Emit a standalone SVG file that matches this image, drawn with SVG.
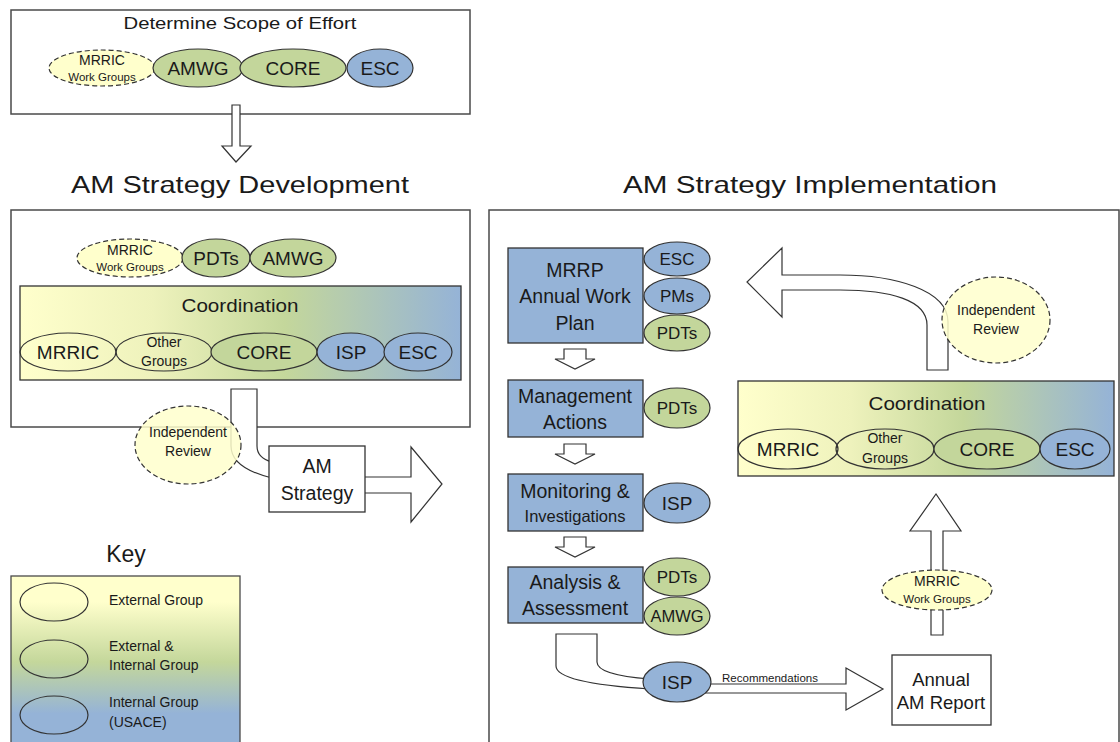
<svg xmlns="http://www.w3.org/2000/svg" xmlns:xlink="http://www.w3.org/1999/xlink" width="1120" height="742" viewBox="0 0 1120 742">
  <defs>
    <linearGradient id="coordGrad" x1="0" y1="0" x2="1" y2="0">
      <stop offset="0" stop-color="#FFFFCC"/>
      <stop offset="0.3" stop-color="#EEF2BC"/>
      <stop offset="0.6" stop-color="#C4D79B"/>
      <stop offset="1" stop-color="#95B3D7"/>
    </linearGradient>
    <linearGradient id="keyGrad" x1="0" y1="0" x2="0" y2="1">
      <stop offset="0" stop-color="#FFFFCC"/>
      <stop offset="0.15" stop-color="#FFFFCC"/>
      <stop offset="0.5" stop-color="#C4D79B"/>
      <stop offset="0.8" stop-color="#95B3D7"/>
      <stop offset="1" stop-color="#95B3D7"/>
    </linearGradient>
    <path id="smallDown" d="M-11,0 H11 V10 H20 L0,20 L-20,10 H-11 Z"/>
  </defs>
  <style>
    text { font-family: "Liberation Sans", Arial, sans-serif; fill: #1a1a1a; text-anchor: middle; }
    .frame { fill: #ffffff; stroke: #4a4a4a; stroke-width: 1.5; }
    .box { fill: #ffffff; stroke: #333333; stroke-width: 1.3; }
    .task { fill: #95B3D7; stroke: #333333; stroke-width: 1.3; }
    .coord { fill: url(#coordGrad); stroke: #333333; stroke-width: 1.3; }
    .ext { fill: #FFFFCC; stroke: #333333; stroke-width: 1.2; stroke-dasharray: 5 3; }
    .review { fill: #FFFFCC; fill-opacity: 0.85; stroke: #333333; stroke-width: 1.2; stroke-dasharray: 5 3; }
    .open { fill: none; stroke: #333333; stroke-width: 1.2; }
    .green { fill: #C3D69B; stroke: #333333; stroke-width: 1.2; }
    .blue { fill: #95B3D7; stroke: #333333; stroke-width: 1.2; }
    .arrow { fill: #ffffff; stroke: #333333; stroke-width: 1.2; stroke-linejoin: miter; }
    .title { font-size: 24px; }
    .lbl { font-size: 19px; }
    .task-t { font-size: 19.5px; }
    .mid { font-size: 17px; }
    .sm { font-size: 14px; }
    .xs { font-size: 11.5px; }
    .key { font-size: 14px; text-anchor: start; }
  </style>

  <!-- Scope of effort -->
  <g id="scope">
    <rect class="frame" x="11" y="10" width="459" height="104"/>
    <text x="240" y="29" font-size="16.5" textLength="233" lengthAdjust="spacingAndGlyphs">Determine Scope of Effort</text>
    <g id="scope-mrric">
      <ellipse class="ext" cx="102" cy="68" rx="53" ry="18"/>
      <text class="sm" x="102" y="65">MRRIC</text>
      <text class="xs" x="102" y="81">Work Groups</text>
    </g>
    <g id="scope-amwg">
      <ellipse class="green" cx="198" cy="68" rx="45" ry="19"/>
      <text class="lbl" x="198" y="75">AMWG</text>
    </g>
    <g id="scope-core">
      <ellipse class="green" cx="293" cy="68" rx="53" ry="19"/>
      <text class="lbl" x="293" y="75">CORE</text>
    </g>
    <g id="scope-esc">
      <ellipse class="blue" cx="380" cy="68" rx="33" ry="19"/>
      <text class="lbl" x="380" y="75">ESC</text>
    </g>
  </g>

  <!-- Section titles -->
  <text class="title" x="240" y="193" textLength="338" lengthAdjust="spacingAndGlyphs">AM Strategy Development</text>
  <text class="title" x="810" y="193" textLength="374" lengthAdjust="spacingAndGlyphs">AM Strategy Implementation</text>

  <!-- Strategy development frame -->
  <g id="development">
    <rect class="frame" x="11" y="210" width="459" height="217"/>
    <g id="dev-mrric">
      <ellipse class="ext" cx="130" cy="258" rx="53" ry="19"/>
      <text class="sm" x="130" y="255">MRRIC</text>
      <text class="xs" x="130" y="271">Work Groups</text>
    </g>
    <g id="dev-pdts">
      <ellipse class="green" cx="216" cy="258" rx="34" ry="19"/>
      <text class="lbl" x="216" y="265">PDTs</text>
    </g>
    <g id="dev-amwg">
      <ellipse class="green" cx="293" cy="258" rx="43" ry="19"/>
      <text class="lbl" x="293" y="265">AMWG</text>
    </g>
  </g>

  <g id="dev-coordination">
    <rect class="coord" x="20" y="286" width="441" height="94"/>
    <text class="lbl" x="240" y="312" textLength="117" lengthAdjust="spacingAndGlyphs">Coordination</text>
    <ellipse class="open" cx="68" cy="352" rx="48" ry="19"/>
    <text class="lbl" x="68" y="359">MRRIC</text>
    <ellipse class="open" cx="164" cy="352" rx="48" ry="19"/>
    <text class="sm" x="164" y="347">Other</text>
    <text class="sm" x="164" y="366">Groups</text>
    <ellipse class="green" cx="264" cy="352" rx="53" ry="19"/>
    <text class="lbl" x="264" y="359">CORE</text>
    <ellipse class="blue" cx="351" cy="352" rx="34" ry="19"/>
    <text class="lbl" x="351" y="359">ISP</text>
    <ellipse class="blue" cx="418" cy="352" rx="34" ry="19"/>
    <text class="lbl" x="418" y="359">ESC</text>
  </g>

  <!-- Connectors -->
  <g id="connectors">
    <!-- scope down to development -->
    <path class="arrow" d="M232,105 H240 V146 H251 L236,162 L222,146 H232 Z"/>
    <!-- development bent arrow into AM Strategy -->
    <path class="arrow" d="M231,389 H257 V446 Q257,458 272,462 V478 Q231,468 231,446 Z"/>
    <!-- AM Strategy out to the right -->
    <path class="arrow" d="M360,477 H411 V447 L442,484 L411,522 V493 H360 Z"/>
    <!-- step arrows between tasks -->
    <use href="#smallDown" xlink:href="#smallDown" x="575" y="349" class="arrow"/>
    <use href="#smallDown" xlink:href="#smallDown" x="575" y="444" class="arrow"/>
    <use href="#smallDown" xlink:href="#smallDown" x="575" y="537" class="arrow"/>
    <!-- analysis to annual report -->
    <path class="arrow" d="M556,634 H597 V662 Q597,675 650,679 L690,684 H846 V668 L883,689 L846,710 V693 H690 L650,689 Q556,683 556,666 Z"/>
    <!-- annual report up to coordination -->
    <path class="arrow" d="M931,635 V531 H910 L936,494 L961,531 H943 V635 Z"/>
    <!-- coordination back to work plan -->
    <path class="arrow" d="M948,370 V322 C948,290 895,275 840,275 H782 V248 L747,282 L782,317 V290 H840 C890,290 927,300 927,325 V370 Z"/>
  </g>

  <g id="dev-review">
    <ellipse class="review" cx="188" cy="445" rx="53" ry="39"/>
    <text class="sm" x="188" y="437">Independent</text>
    <text class="sm" x="188" y="456">Review</text>
  </g>

  <g id="am-strategy">
    <rect class="box" x="269" y="446" width="96" height="66"/>
    <text class="task-t" x="317" y="473">AM</text>
    <text class="task-t" x="317" y="500">Strategy</text>
  </g>

  <!-- Key -->
  <g id="key">
    <text x="126" y="562" font-size="23">Key</text>
    <rect x="11" y="576" width="229" height="172" fill="url(#keyGrad)" stroke="#4a4a4a" stroke-width="1.3"/>
    <ellipse class="open" cx="54" cy="602" rx="34" ry="19"/>
    <text class="key" x="109" y="605">External Group</text>
    <ellipse class="open" cx="54" cy="659" rx="34" ry="19"/>
    <text class="key" x="109" y="651">External &amp;</text>
    <text class="key" x="109" y="670">Internal Group</text>
    <ellipse class="open" cx="54" cy="715" rx="34" ry="19"/>
    <text class="key" x="109" y="707">Internal Group</text>
    <text class="key" x="109" y="727">(USACE)</text>
  </g>

  <!-- Implementation frame -->
  <rect id="implementation" x="489" y="210" width="630" height="540" fill="none" stroke="#4a4a4a" stroke-width="1.5"/>

  <g id="work-plan">
    <rect class="task" x="508" y="248" width="135" height="95"/>
    <text class="task-t" x="575" y="277">MRRP</text>
    <text class="task-t" x="575" y="303">Annual Work</text>
    <text class="task-t" x="575" y="330">Plan</text>
    <ellipse class="blue" cx="677" cy="259" rx="33" ry="17"/>
    <text class="mid" x="677" y="265">ESC</text>
    <ellipse class="blue" cx="677" cy="296" rx="33" ry="18"/>
    <text class="mid" x="677" y="302">PMs</text>
    <ellipse class="green" cx="677" cy="333" rx="33" ry="18"/>
    <text class="mid" x="677" y="339">PDTs</text>
  </g>

  <g id="management-actions">
    <rect class="task" x="508" y="380" width="135" height="57"/>
    <text class="task-t" x="575" y="403">Management</text>
    <text class="task-t" x="575" y="429">Actions</text>
    <ellipse class="green" cx="677" cy="408" rx="33" ry="20"/>
    <text class="mid" x="677" y="414">PDTs</text>
  </g>

  <g id="monitoring">
    <rect class="task" x="508" y="474" width="135" height="57"/>
    <text class="task-t" x="575" y="498">Monitoring &amp;</text>
    <text x="575" y="522" font-size="16.5">Investigations</text>
    <ellipse class="blue" cx="677" cy="503" rx="33" ry="20"/>
    <text class="lbl" x="677" y="510">ISP</text>
  </g>

  <g id="analysis">
    <rect class="task" x="508" y="567" width="135" height="56"/>
    <text class="task-t" x="575" y="589">Analysis &amp;</text>
    <text class="task-t" x="575" y="615">Assessment</text>
    <ellipse class="green" cx="677" cy="577" rx="33" ry="19"/>
    <text class="mid" x="677" y="583">PDTs</text>
    <ellipse class="green" cx="677" cy="616" rx="33" ry="19"/>
    <text x="677" y="622" font-size="16.5">AMWG</text>
  </g>

  <g id="isp-review">
    <ellipse class="blue" cx="677" cy="682" rx="34" ry="20"/>
    <text class="lbl" x="677" y="689">ISP</text>
    <text x="770" y="682" font-size="11.5">Recommendations</text>
  </g>

  <g id="annual-report">
    <rect class="box" x="892" y="655" width="99" height="70"/>
    <text x="941" y="686" font-size="18.5">Annual</text>
    <text x="941" y="709" font-size="18.5">AM Report</text>
  </g>

  <g id="report-mrric">
    <ellipse class="ext" cx="937" cy="590" rx="55" ry="20"/>
    <text class="sm" x="937" y="586">MRRIC</text>
    <text class="xs" x="937" y="603">Work Groups</text>
  </g>

  <g id="impl-coordination">
    <rect class="coord" x="738" y="381" width="376" height="95"/>
    <text class="lbl" x="927" y="410" textLength="117" lengthAdjust="spacingAndGlyphs">Coordination</text>
    <ellipse class="open" cx="788" cy="449" rx="50" ry="20"/>
    <text class="lbl" x="788" y="456">MRRIC</text>
    <ellipse class="open" cx="885" cy="449" rx="49" ry="20"/>
    <text class="sm" x="885" y="443">Other</text>
    <text class="sm" x="885" y="463">Groups</text>
    <ellipse class="green" cx="987" cy="449" rx="53" ry="20"/>
    <text class="lbl" x="987" y="456">CORE</text>
    <ellipse class="blue" cx="1075" cy="449" rx="35" ry="20"/>
    <text class="lbl" x="1075" y="456">ESC</text>
  </g>

  <g id="impl-review">
    <ellipse class="review" cx="996" cy="320" rx="54" ry="43"/>
    <text class="sm" x="996" y="315">Independent</text>
    <text class="sm" x="996" y="334">Review</text>
  </g>
</svg>
